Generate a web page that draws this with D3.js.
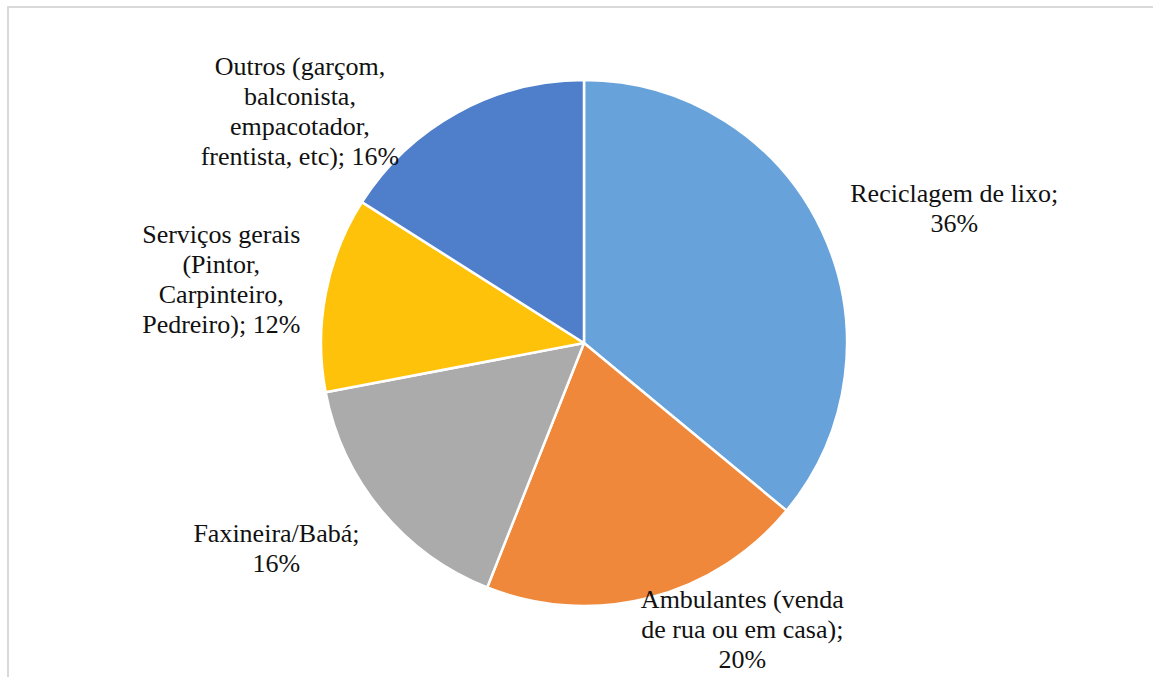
<!DOCTYPE html>
<html>
<head>
<meta charset="utf-8">
<script src="https://cdn.jsdelivr.net/npm/d3@7"></script>
<style>
  body { margin: 0; background: #fff; }
  #chart { position: relative; width: 1153px; height: 677px; overflow: hidden; }
  svg { display: block; position: absolute; left: 0; top: 0; }
  .label {
    position: absolute;
    transform: translate(-50%, -50%);
    font-family: "Liberation Serif", "Times New Roman", serif;
    font-size: 26px;
    line-height: 30px;
    color: #111;
    text-align: center;
    white-space: nowrap;
  }
</style>
</head>
<body>
<div id="chart"></div>
<script>
// data
const categories = [
    "Reciclagem de lixo",
    "Ambulantes (venda de rua ou em casa)",
    "Faxineira/Babá",
    "Serviços gerais (Pintor, Carpinteiro, Pedreiro)",
    "Outros (garçom, balconista, empacotador, frentista, etc)"
];
const values = [36, 20, 16, 12, 16];
// how each label is broken into lines (as in the picture)
const labelLines = [
    ["Reciclagem de lixo;", "36%"],
    ["Ambulantes (venda", "de rua ou em casa);", "20%"],
    ["Faxineira/Babá;", "16%"],
    ["Serviços gerais", "(Pintor,", "Carpinteiro,", "Pedreiro); 12%"],
    ["Outros (garçom,", "balconista,", "empacotador,", "frentista, etc); 16%"]
];
const colors = ["#67a3da", "#ef883b", "#ababab", "#ffc20a", "#4f7fcb"];

function createPie(source) {
    const width = 1153, height = 677;
    const cx = 584, cy = 343, radius = 263;
    // nudges from the label arc to where the labels sit in the picture
    const labelNudge = [[49, 17], [70, -57], [-34, -20], [-14, 4], [-113, 80]];

    const container = d3.select(source);
    const svg = container
        .append("svg")
        .attr("width", width)
        .attr("height", height);

    // light frame round the chart area
    svg.append("rect")
        .attr("x", 8)
        .attr("y", 7)
        .attr("width", width + 20)
        .attr("height", height + 20)
        .attr("fill", "none")
        .attr("stroke", "#d9d9d9")
        .attr("stroke-width", 2);

    const g = svg.append("g")
        .attr("transform", `translate(${cx},${cy})`);

    const pie = d3.pie().sort(null).value(d => d);
    const arcs = pie(values);

    const arc = d3.arc().innerRadius(0).outerRadius(radius);
    const labelArc = d3.arc().innerRadius(radius * 1.35).outerRadius(radius * 1.35);

    g.selectAll("path.slice")
        .data(arcs)
        .join("path")
        .attr("class", "slice")
        .attr("d", arc)
        .attr("fill", (d, i) => colors[i])
        .attr("stroke", "#fff")
        .attr("stroke-width", 2.5)
        .attr("stroke-linejoin", "round");

    // labels as html blocks on top, so the serif face is used
    container.selectAll("div.label")
        .data(arcs)
        .join("div")
        .attr("class", "label")
        .style("left", (d, i) => (cx + labelArc.centroid(d)[0] + labelNudge[i][0]) + "px")
        .style("top", (d, i) => (cy + labelArc.centroid(d)[1] + labelNudge[i][1]) + "px")
        .html((d, i) => labelLines[i].join("<br>"));
}

createPie("#chart");
</script>
</body>
</html>
